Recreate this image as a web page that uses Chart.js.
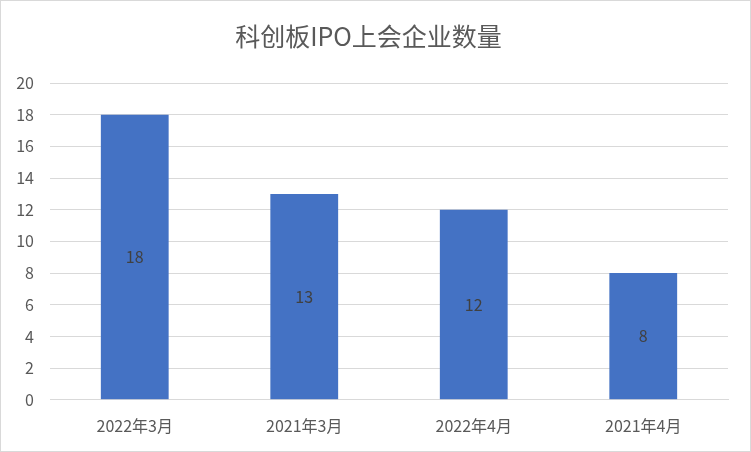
<!DOCTYPE html>
<html>
<head>
<meta charset="utf-8">
<script src="https://cdn.jsdelivr.net/npm/chart.js@4"></script>
<style>
  html, body { margin: 0; padding: 0; background: #fff; }
  #wrap { width: 751px; height: 452px; box-sizing: border-box; border: 1px solid #d9d9d9; }
  #canvas { display: block; }
</style>
</head>
<body>
<div id="wrap"><canvas id="canvas" width="749" height="450"></canvas></div>
<script>
// data
var categories = ["2022年3月", "2021年3月", "2022年4月", "2021年4月"];
var counts = [18, 13, 12, 8];
var yTicks = [0, 2, 4, 6, 8, 10, 12, 14, 16, 18, 20];

var fontFamily = "'Noto Sans CJK SC', 'Liberation Sans', sans-serif";

// labels in the middle of each bar
var barLabels = {
	id: "barLabels",
	afterDatasetsDraw: function(chart) {
		var ctx = chart.ctx;
		var meta = chart.getDatasetMeta(0);
		ctx.save();
		ctx.fillStyle = "#404040";
		ctx.font = "16px " + fontFamily;
		ctx.textAlign = "center";
		ctx.textBaseline = "middle";
		meta.data.forEach(function(bar, i) {
			var mid = (bar.y + bar.base) / 2;
			ctx.fillText(String(counts[i]), bar.x, mid);
		});
		ctx.restore();
	}
};

var ctx = document.getElementById("canvas").getContext("2d");
var chart = new Chart(ctx, {
	type: "bar",
	data: {
		labels: categories,
		datasets: [{
			label: "数量",
			data: counts,
			backgroundColor: "#4472c4",
			categoryPercentage: 1,
			barPercentage: 0.4
		}]
	},
	options: {
		responsive: false,
		maintainAspectRatio: false,
		animation: false,
		devicePixelRatio: 1,
		layout: { padding: { left: 8, right: 22, top: 0, bottom: -2 } },
		plugins: {
			legend: { display: false },
			tooltip: { enabled: false },
			title: {
				display: true,
				text: "科创板IPO上会企业数量",
				color: "#595959",
				font: { family: fontFamily, size: 25, weight: "normal" },
				padding: { top: 20, bottom: 32 }
			}
		},
		scales: {
			x: {
				grid: { display: false, drawTicks: false },
				border: { color: "#d9d9d9", width: 1 },
				ticks: {
					color: "#595959",
					font: { family: fontFamily, size: 16 },
					padding: 17
				}
			},
			y: {
				min: 0,
				max: 20,
				afterBuildTicks: function(axis) {
					axis.ticks = yTicks.map(function(v) { return { value: v }; });
				},
				afterFit: function(axis) { axis.width = 41; },
				grid: { color: "#d9d9d9", lineWidth: 1, drawTicks: false },
				border: { display: false },
				ticks: {
					color: "#595959",
					font: { family: fontFamily, size: 16 },
					padding: 16
				}
			}
		}
	},
	plugins: [barLabels]
});
</script>
</body>
</html>
